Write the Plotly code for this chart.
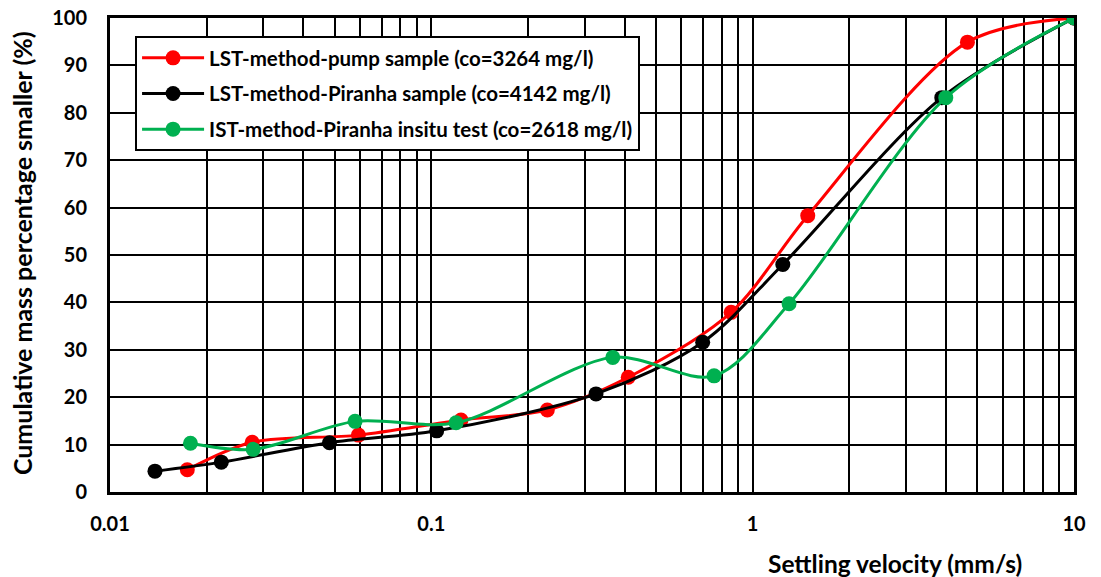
import plotly.graph_objects as go

# Data
red_x = [0.0174, 0.0277, 0.0593, 0.1237, 0.2296, 0.410, 0.857, 1.484, 4.66, 10.0]
red_y = [4.7, 10.5, 12.0, 15.2, 17.3, 24.2, 37.9, 58.3, 94.9, 100.0]

black_x = [0.0138, 0.0222, 0.0482, 0.1039, 0.3255, 0.699, 1.241, 3.877, 10.0]
black_y = [4.4, 6.3, 10.4, 12.9, 20.7, 31.6, 48.0, 83.2, 100.0]

green_x = [0.0178, 0.0279, 0.0579, 0.1194, 0.367, 0.7585, 1.298, 3.99, 10.0]
green_y = [10.3, 9.0, 14.9, 14.6, 28.4, 24.5, 39.7, 83.2, 100.0]

names = ["LST-method-pump sample (co=3264 mg/l)",
         "LST-method-Piranha sample (co=4142 mg/l)",
         "IST-method-Piranha insitu test (co=2618 mg/l)"]
colors = ["#FF0000", "#000000", "#00B050"]

x_major = [0.01, 0.1, 1, 10]
x_major_text = ["0.01", "0.1", "1", "10"]
y_ticks = list(range(0, 101, 10))

FONT = "Lato"

fig = go.Figure()
for i, (xs, ys) in enumerate([(red_x, red_y), (black_x, black_y), (green_x, green_y)]):
    fig.add_trace(go.Scatter(
        x=xs, y=ys, mode="lines+markers", name=names[i],
        legendgroup=f"g{i}",
        line=dict(color=colors[i], width=3, shape="spline", smoothing=0.9),
        marker=dict(color=colors[i], size=15),
    ))

tickvals = []
ticktext = []
for dec in [0.01, 0.1, 1]:
    for m in range(1, 10):
        v = round(dec * m, 6)
        tickvals.append(v)
        ticktext.append(x_major_text[x_major.index(dec)] if m == 1 else "")
tickvals.append(10)
ticktext.append("10")

fig.update_layout(
    width=1101, height=577,
    margin=dict(l=102, r=35, t=10, b=93),
    paper_bgcolor="white", plot_bgcolor="white",
    font=dict(family=FONT, size=20, color="black"),
    showlegend=True,
    legend=dict(
        x=0.026, y=0.962, xanchor="left", yanchor="top",
        bgcolor="white", bordercolor="black", borderwidth=2,
        font=dict(family=FONT, size=20.5, color="black", weight="bold"),
        tracegroupgap=6, traceorder="grouped", itemwidth=62,
    ),
    xaxis=dict(
        type="log", range=[-2, 1],
        tickvals=tickvals, ticktext=ticktext,
        showgrid=True, gridcolor="black", gridwidth=1.5,
        showline=True, linecolor="black", linewidth=3, mirror=True,
        ticks="", ticklabelstandoff=12, automargin=False,
        ticklabeloverflow="allow",
        tickfont=dict(family=FONT, size=20, color="black", weight="bold"),
        zeroline=False,
    ),
    yaxis=dict(
        range=[0, 100], tickvals=y_ticks,
        showgrid=True, gridcolor="black", gridwidth=1.5,
        showline=True, linecolor="black", linewidth=3, mirror=True,
        ticks="", ticklabelstandoff=16, automargin=False,
        ticklabeloverflow="allow",
        tickfont=dict(family=FONT, size=20, color="black", weight="bold"),
        zeroline=False,
    ),
    annotations=[
        dict(text="Settling velocity (mm/s)", xref="paper", yref="paper",
             x=0.814, y=-0.150, xanchor="center", yanchor="middle", showarrow=False,
             font=dict(family=FONT, size=24.5, color="black", weight="bold")),
        dict(text="Cumulative mass percentage smaller (%)", xref="paper", yref="paper",
             x=-0.0913, y=0.504, xanchor="center", yanchor="middle", showarrow=False,
             textangle=-90,
             font=dict(family=FONT, size=25, color="black", weight="bold")),
    ],
)

fig.write_html("out.html")
